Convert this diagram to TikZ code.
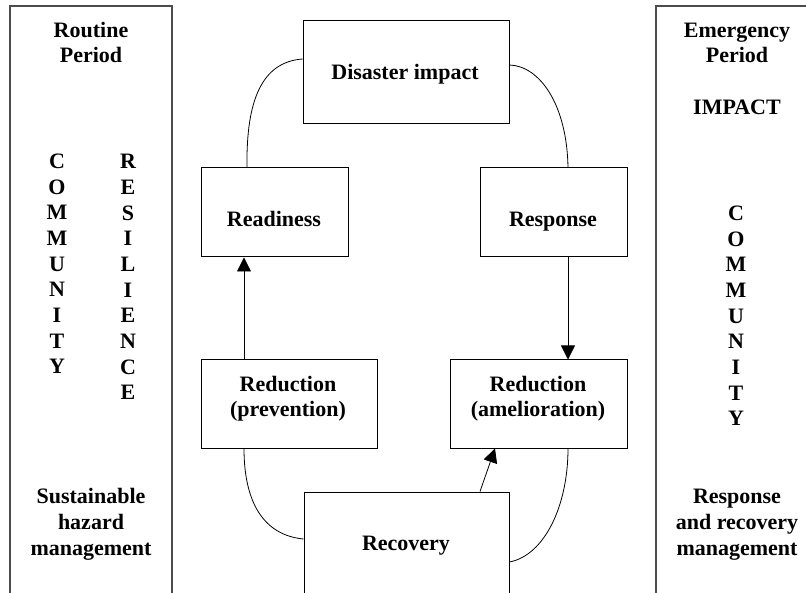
\documentclass[tikz,border=0pt]{standalone}
\usepackage{fontspec}
\setmainfont{Liberation Serif}
\usetikzlibrary{arrows.meta}
\begin{document}
\begin{tikzpicture}[x=1pt,y=-1pt,
  panel/.style={draw=black!70, line width=1.5pt, inner sep=0pt},
  box/.style={draw=black, line width=1pt, inner sep=0pt},
  txt/.style={font=\fontsize{22}{25.7}\selectfont\bfseries, align=center, anchor=base, inner sep=0pt},
  link/.style={draw=black, line width=0.8pt},
  arr/.style={link, -{Triangle[width=14pt,length=14pt]}}]
\useasboundingbox (0,0) rectangle (806,593);
\clip (0,0) rectangle (806,593);
% side panels
\node[panel, minimum width=162pt, minimum height=604pt] (lpanel) at (91,308) {};
\node[panel, minimum width=174pt, minimum height=604pt] (rpanel) at (743,308) {};
% boxes
\node[box, minimum width=206pt, minimum height=103pt] (di) at (406,72.5) {};
\node[box, minimum width=147pt, minimum height=89pt] (rd) at (274.5,212.5) {};
\node[box, minimum width=147pt, minimum height=89pt] (rs) at (553.5,212.5) {};
\node[box, minimum width=176pt, minimum height=88pt] (rp) at (289,404) {};
\node[box, minimum width=177pt, minimum height=88pt] (ra) at (538.5,404) {};
\node[box, minimum width=205pt, minimum height=128pt] (rc) at (406.5,556) {};
% box texts (anchor = baseline of the last line)
\node[txt] (tdi) at (405,80) {Disaster impact};
\node[txt] (trd) at (274,227) {Readiness};
\node[txt] (trs) at (553,227) {Response};
\node[txt] (trp) at (288,417) {Reduction\\(prevention)};
\node[txt] (tra) at (538,417) {Reduction\\(amelioration)};
\node[txt] (trc) at (406,550) {Recovery};
% panel texts
\node[txt] (lhead) at (91,63) {Routine\\Period};
\node[txt] (lcom) at (57,374) {C\\O\\M\\M\\U\\N\\I\\T\\Y};
\node[txt] (lres) at (128,400) {R\\E\\S\\I\\L\\I\\E\\N\\C\\E};
\node[txt] (lfoot) at (91,555) {Sustainable\\hazard\\management};
\node[txt] (rhead) at (737,63) {Emergency\\Period};
\node[txt] (rimp) at (737,115) {IMPACT};
\node[txt] (rcom) at (736,426) {C\\O\\M\\M\\U\\N\\I\\T\\Y};
\node[txt] (rfoot) at (737,555) {Response\\and recovery\\management};
% connectors
\draw[link] ([yshift=13.5pt]di.west) .. controls (262,62) and (246,100) .. ([xshift=-27.5pt]rd.north);
\draw[link] ([yshift=7.5pt]di.east) .. controls (540,66) and (567,105) .. ([xshift=14.5pt]rs.north);
\draw[arr] ([xshift=-45pt]rp.north) -- ([xshift=-45pt]rp.north |- rd.south);
\draw[arr] ([xshift=14.5pt]rs.south) -- ([xshift=14.5pt]rs.south |- ra.north);
\draw[link] ([xshift=-45pt]rp.south) .. controls (244,500) and (262,535) .. ([yshift=17pt]rc.west);
\draw[arr] ([xshift=73.5pt]rc.north) -- ([xshift=-43.5pt]ra.south);
\draw[link] ([yshift=-6pt]rc.east) .. controls (545,555) and (568,505) .. ([xshift=29.5pt]ra.south);
\end{tikzpicture}
\end{document}
